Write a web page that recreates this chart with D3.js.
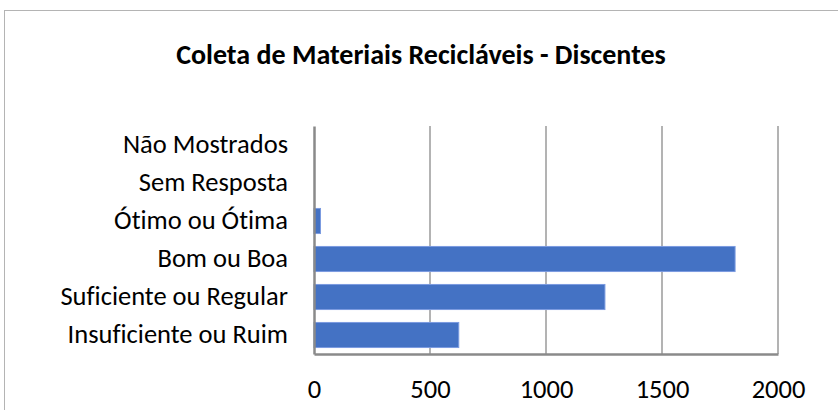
<!DOCTYPE html>
<html>
<head>
<meta charset="utf-8">
<script src="https://cdn.jsdelivr.net/npm/d3@7"></script>
<style>
  html, body { margin: 0; padding: 0; background: #fff; }
  svg { display: block; font-family: Calibri, Carlito, Lato, "Open Sans", sans-serif; }
  svg text { font-variant-ligatures: none; font-feature-settings: "liga" 0, "dlig" 0; }
</style>
</head>
<body>
<div id="chart"></div>
<script>
// Survey answers on the collection of recyclable materials (students)
const categories = [
  "Não Mostrados",
  "Sem Resposta",
  "Ótimo ou Ótima",
  "Bom ou Boa",
  "Suficiente ou Regular",
  "Insuficiente ou Ruim"
];
const values = [0, 0, 28, 1815, 1254, 624];
const tickValues = [0, 500, 1000, 1500, 2000];
const title = "Coleta de Materiais Recicláveis - Discentes";

const W = 838, H = 410;
const margin = { top: 126, left: 314, right: 60, bottom: 56 };
const plotW = 778 - margin.left;
const plotH = 354 - margin.top;
const fontStack = "Calibri, Carlito, Lato, 'Open Sans', sans-serif";

const svg = d3.select("#chart").append("svg")
  .attr("width", W).attr("height", H);

// chart frame
svg.append("rect")
  .attr("x", 4.5).attr("y", 10.5)
  .attr("width", 900).attr("height", 500)
  .attr("fill", "#fff").attr("stroke", "#b4b4b4").attr("stroke-width", 1);

svg.append("text")
  .attr("x", 421).attr("y", 64)
  .attr("text-anchor", "middle")
  .attr("font-weight", "bold")
  .attr("font-size", 28)
  .attr("fill", "#000")
  .text(title);

const g = svg.append("g").attr("transform", `translate(${margin.left},${margin.top})`);

const x = d3.scaleLinear().domain([0, 2000]).range([0, plotW]);
const y = d3.scaleBand().domain(categories).range([0, plotH]).paddingInner(0.34).paddingOuter(0.17);

// vertical gridlines
g.append("g").selectAll("line")
  .data(tickValues.slice(1))
  .join("line")
  .attr("x1", d => x(d)).attr("x2", d => x(d))
  .attr("y1", 0).attr("y2", plotH)
  .attr("stroke", "#9a9a9a").attr("stroke-width", 1.5);

// bars
g.append("g").selectAll("rect")
  .data(categories.map((c, i) => ({ c, v: values[i] })).filter(d => d.v > 0))
  .join("rect")
  .attr("x", x(0))
  .attr("y", d => y(d.c))
  .attr("width", d => x(d.v) - x(0))
  .attr("height", y.bandwidth())
  .attr("fill", "#4472C4")
  .attr("stroke", "#7b9be0").attr("stroke-width", 1);

// axes
const xAxis = d3.axisBottom(x).tickValues(tickValues).tickFormat(d3.format("d"))
  .tickSize(0).tickPadding(25);
const gx = g.append("g").attr("transform", `translate(0,${plotH})`).call(xAxis);
gx.select(".domain").attr("stroke", "#8a8a8a").attr("stroke-width", 2.5);
gx.selectAll("text").attr("font-size", 26.5).attr("fill", "#000").attr("font-family", fontStack);

const yAxis = d3.axisLeft(y).tickSize(0).tickPadding(26);
const gy = g.append("g").call(yAxis);
gy.select(".domain").attr("stroke", "#8a8a8a").attr("stroke-width", 2.5);
gy.selectAll("text").attr("font-size", 26.5).attr("fill", "#000").attr("font-family", fontStack);
</script>
</body>
</html>
